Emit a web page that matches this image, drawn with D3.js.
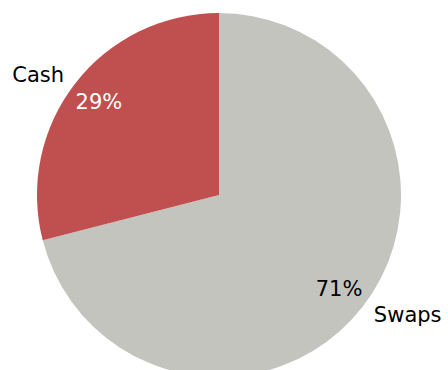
<!DOCTYPE html>
<html>
<head>
<meta charset="utf-8">
<script src="https://cdn.jsdelivr.net/npm/d3@7"></script>
<style>
  body { margin: 0; background: #fff; }
  text { font-family: "DejaVu Sans", Verdana, sans-serif; font-size: 21px; }
</style>
</head>
<body>
<div id="chart"></div>
<script>
var categories = ["Swaps", "Cash"],
    values = [71, 29],
    colors = ["#c4c4bf", "#c0504f"],
    pctColors = ["#000", "#fff"];

var width = 448,
    height = 370,
    radius = 182,
    cx = 219,
    cy = 195;

var svg = d3.select("#chart").append("svg")
    .attr("width", width)
    .attr("height", height)
    .append("g")
    .attr("transform", "translate(" + cx + "," + cy + ")");

var pie = d3.pie().sort(null);
var arcs = pie(values);

var arc = d3.arc().innerRadius(0).outerRadius(radius);
var pctArc = d3.arc().innerRadius(152).outerRadius(152);
var labelArc = d3.arc().innerRadius(196).outerRadius(196);

svg.selectAll("path")
    .data(arcs)
    .enter().append("path")
    .attr("d", arc)
    .style("fill", function (d, i) { return colors[i]; });

svg.selectAll(".pct")
    .data(arcs)
    .enter().append("text")
    .attr("class", "pct")
    .attr("transform", function (d) { return "translate(" + pctArc.centroid(d) + ")"; })
    .attr("text-anchor", "middle")
    .attr("dy", "0.35em")
    .style("fill", function (d, i) { return pctColors[i]; })
    .text(function (d) { return d.value + "%"; });

svg.selectAll(".lbl")
    .data(arcs)
    .enter().append("text")
    .attr("class", "lbl")
    .attr("transform", function (d) { return "translate(" + labelArc.centroid(d) + ")"; })
    .attr("text-anchor", function (d) {
        var mid = (d.startAngle + d.endAngle) / 2;
        return mid < Math.PI ? "start" : "end";
    })
    .attr("dy", "0.35em")
    .text(function (d, i) { return categories[i]; });
</script>
</body>
</html>
